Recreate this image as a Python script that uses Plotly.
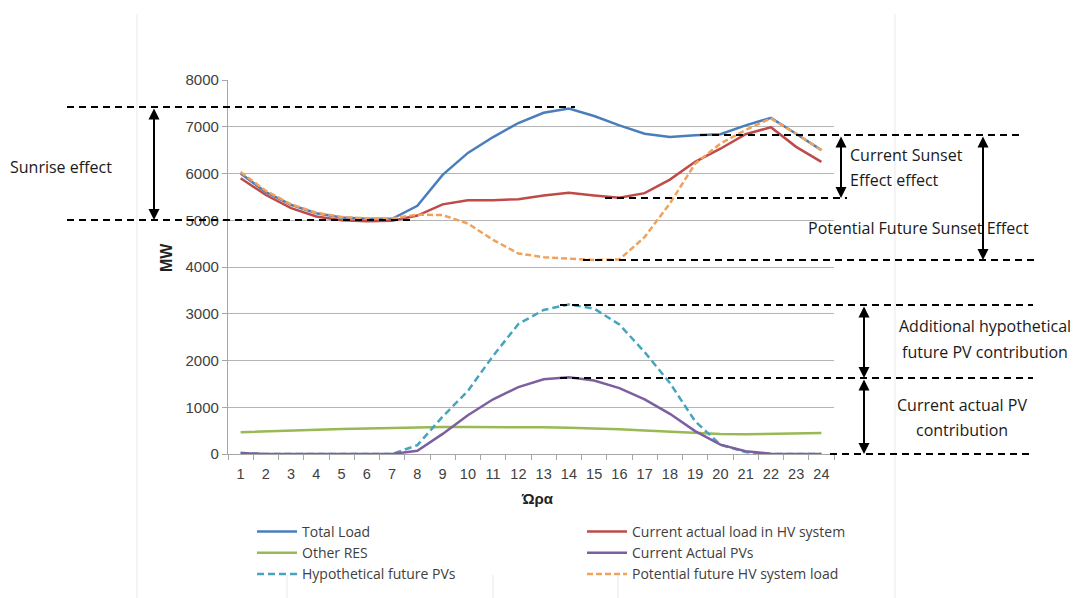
import plotly.graph_objects as go

hours = [str(h) for h in range(1, 25)]
total_load = [6000, 5600, 5330, 5150, 5060, 5030, 5030, 5310, 5970, 6440, 6780, 7080,
              7300, 7390, 7230, 7030, 6850, 6780, 6820, 6840, 7030, 7190, 6850, 6500]
hv_load = [5900, 5540, 5260, 5080, 5000, 4980, 4990, 5100, 5340, 5430, 5430, 5450,
           5530, 5590, 5530, 5480, 5580, 5870, 6250, 6530, 6840, 6990, 6570, 6250]
other_res = [465, 485, 505, 520, 535, 545, 560, 575, 578, 578, 578, 576,
             572, 560, 548, 530, 505, 482, 458, 428, 422, 436, 450, 450]
actual_pv = [20, 0, 0, 0, 0, 0, 0, 70, 430, 830, 1170, 1430,
             1600, 1640, 1570, 1410, 1170, 860, 490, 200, 60, 5, 0, 0]
future_pv = [20, 0, 0, 0, 0, 0, 0, 190, 800, 1350, 2100, 2780,
             3080, 3200, 3110, 2770, 2180, 1520, 700, 200, 40, 0, 0, 0]
future_hv = [6030, 5630, 5340, 5160, 5070, 5040, 5040, 5120, 5110, 4930, 4580, 4290,
             4210, 4180, 4150, 4160, 4640, 5360, 6210, 6640, 6930, 7180, 6850, 6500]

OFF = 8  # page body margin
W, H = 1079 - OFF, 598 - OFF
L, R, T, B = 228, 834, 80, 454  # plot area in screen pixels

def px(x):
    return (x - L) / (R - L)

def py(y):
    return (B - y) / (B - T)

FONT = "Open Sans"
fig = go.Figure()
series = [
    ("Total Load", total_load, "#4a7ebb", "solid", "legend"),
    ("Other RES", other_res, "#98b954", "solid", "legend"),
    ("Hypothetical future PVs", future_pv, "#46a5bd", "7px,4px", "legend"),
    ("Current actual load in HV system", hv_load, "#be4b48", "solid", "legend2"),
    ("Current Actual PVs", actual_pv, "#7d5fa0", "solid", "legend2"),
    ("Potential future HV system load", future_hv, "#f0a25c", "6px,3px", "legend2"),
]
for name, vals, col, dash, leg in series:
    fig.add_trace(go.Scatter(x=hours, y=vals, name=name, mode="lines", legend=leg,
                             line=dict(color=col, width=2.5, dash=dash)))

shapes = []
# faint background lines
for x0, y0, y1 in [(137, 14, 598), (895, 14, 598), (287, 575, 598), (493, 575, 598), (618, 575, 598)]:
    shapes.append(dict(type="line", xref="paper", yref="paper", x0=px(x0), x1=px(x0),
                       y0=py(y0), y1=py(y1), line=dict(color="#ececec", width=1.2), layer="below"))
# dashed reference lines
for x0, x1, y in [(67, 575, 107), (67, 415, 220), (700, 1020, 135), (605, 847, 198),
                  (583, 1037, 260), (560, 1033, 305), (560, 1033, 378), (830, 1033, 454)]:
    shapes.append(dict(type="line", xref="paper", yref="paper", x0=px(x0), x1=px(x1),
                       y0=py(y), y1=py(y), line=dict(color="black", width=1.8, dash="7px,5px")))

annotations = []
# double arrows
for x, ya, yb in [(154, 107, 220), (841, 135, 198), (983, 135, 260), (864, 305, 378), (864, 378, 454)]:
    annotations.append(dict(x=px(x), y=py(yb), xref="paper", yref="paper", ax=0, ay=ya - yb,
                            axref="pixel", ayref="pixel", text="", showarrow=True,
                            arrowhead=2, startarrowhead=2, arrowside="end+start",
                            arrowsize=1.1, startarrowsize=1.1, arrowwidth=2, arrowcolor="black"))
texts = [
    ("Sunrise effect", 8, 167, "left"),
    ("Current Sunset", 848, 155, "left"),
    ("Effect effect", 848, 180, "left"),
    ("Potential Future Sunset Effect", 806, 228, "left"),
    ("Additional hypothetical", 985, 326, "center"),
    ("future PV contribution", 985, 352, "center"),
    ("Current actual PV", 962, 405, "center"),
    ("contribution", 962, 430, "center"),
]
for t, x, y, anc in texts:
    annotations.append(dict(x=px(x), y=py(y), xref="paper", yref="paper", text=t, showarrow=False,
                            xanchor=anc, yanchor="middle", font=dict(family=FONT, size=16, color="#1a1a1a")))
annotations.append(dict(x=px(166), y=py(258), xref="paper", yref="paper", text="<b>MW</b>",
                        showarrow=False, textangle=-90, xanchor="center", yanchor="middle",
                        font=dict(family="Liberation Sans", size=16, color="#222")))
annotations.append(dict(x=px(537), y=py(498), xref="paper", yref="paper", text="<b>Ώρα</b>",
                        showarrow=False, xanchor="center", yanchor="middle",
                        font=dict(family="Liberation Sans", size=15, color="#222")))

legend_common = dict(orientation="v", xanchor="left", yanchor="top", traceorder="normal",
                     itemwidth=40, font=dict(family=FONT, size=14, color="#404040"),
                     bgcolor="rgba(0,0,0,0)")
fig.update_layout(
    width=W, height=H, autosize=False,
    margin=dict(l=L - OFF, r=W - (R - OFF), t=T - OFF, b=H - (B - OFF), autoexpand=False),
    plot_bgcolor="white", paper_bgcolor="white",
    shapes=shapes, annotations=annotations,
    showlegend=True,
    legend=dict(x=px(252), y=py(516), **legend_common),
    legend2=dict(x=px(582), y=py(516), **legend_common),
    xaxis=dict(type="category", range=[-0.5, 23.5], tickson="boundaries", ticks="outside", ticklen=5,
               tickcolor="#a6a6a6", showline=True, linecolor="#a6a6a6", linewidth=1.2,
               showgrid=False, ticklabelstandoff=6,
               tickfont=dict(family="Liberation Sans", size=14.5, color="#404040")),
    yaxis=dict(range=[0, 8000], dtick=1000, ticks="outside", ticklen=5, tickcolor="#a6a6a6",
               showline=True, linecolor="#a6a6a6", linewidth=1.2, gridcolor="#b4b4b4",
               zeroline=False, tickformat="d",
               tickfont=dict(family="Liberation Sans", size=15, color="#404040")),
)
fig.write_html("out.html")
